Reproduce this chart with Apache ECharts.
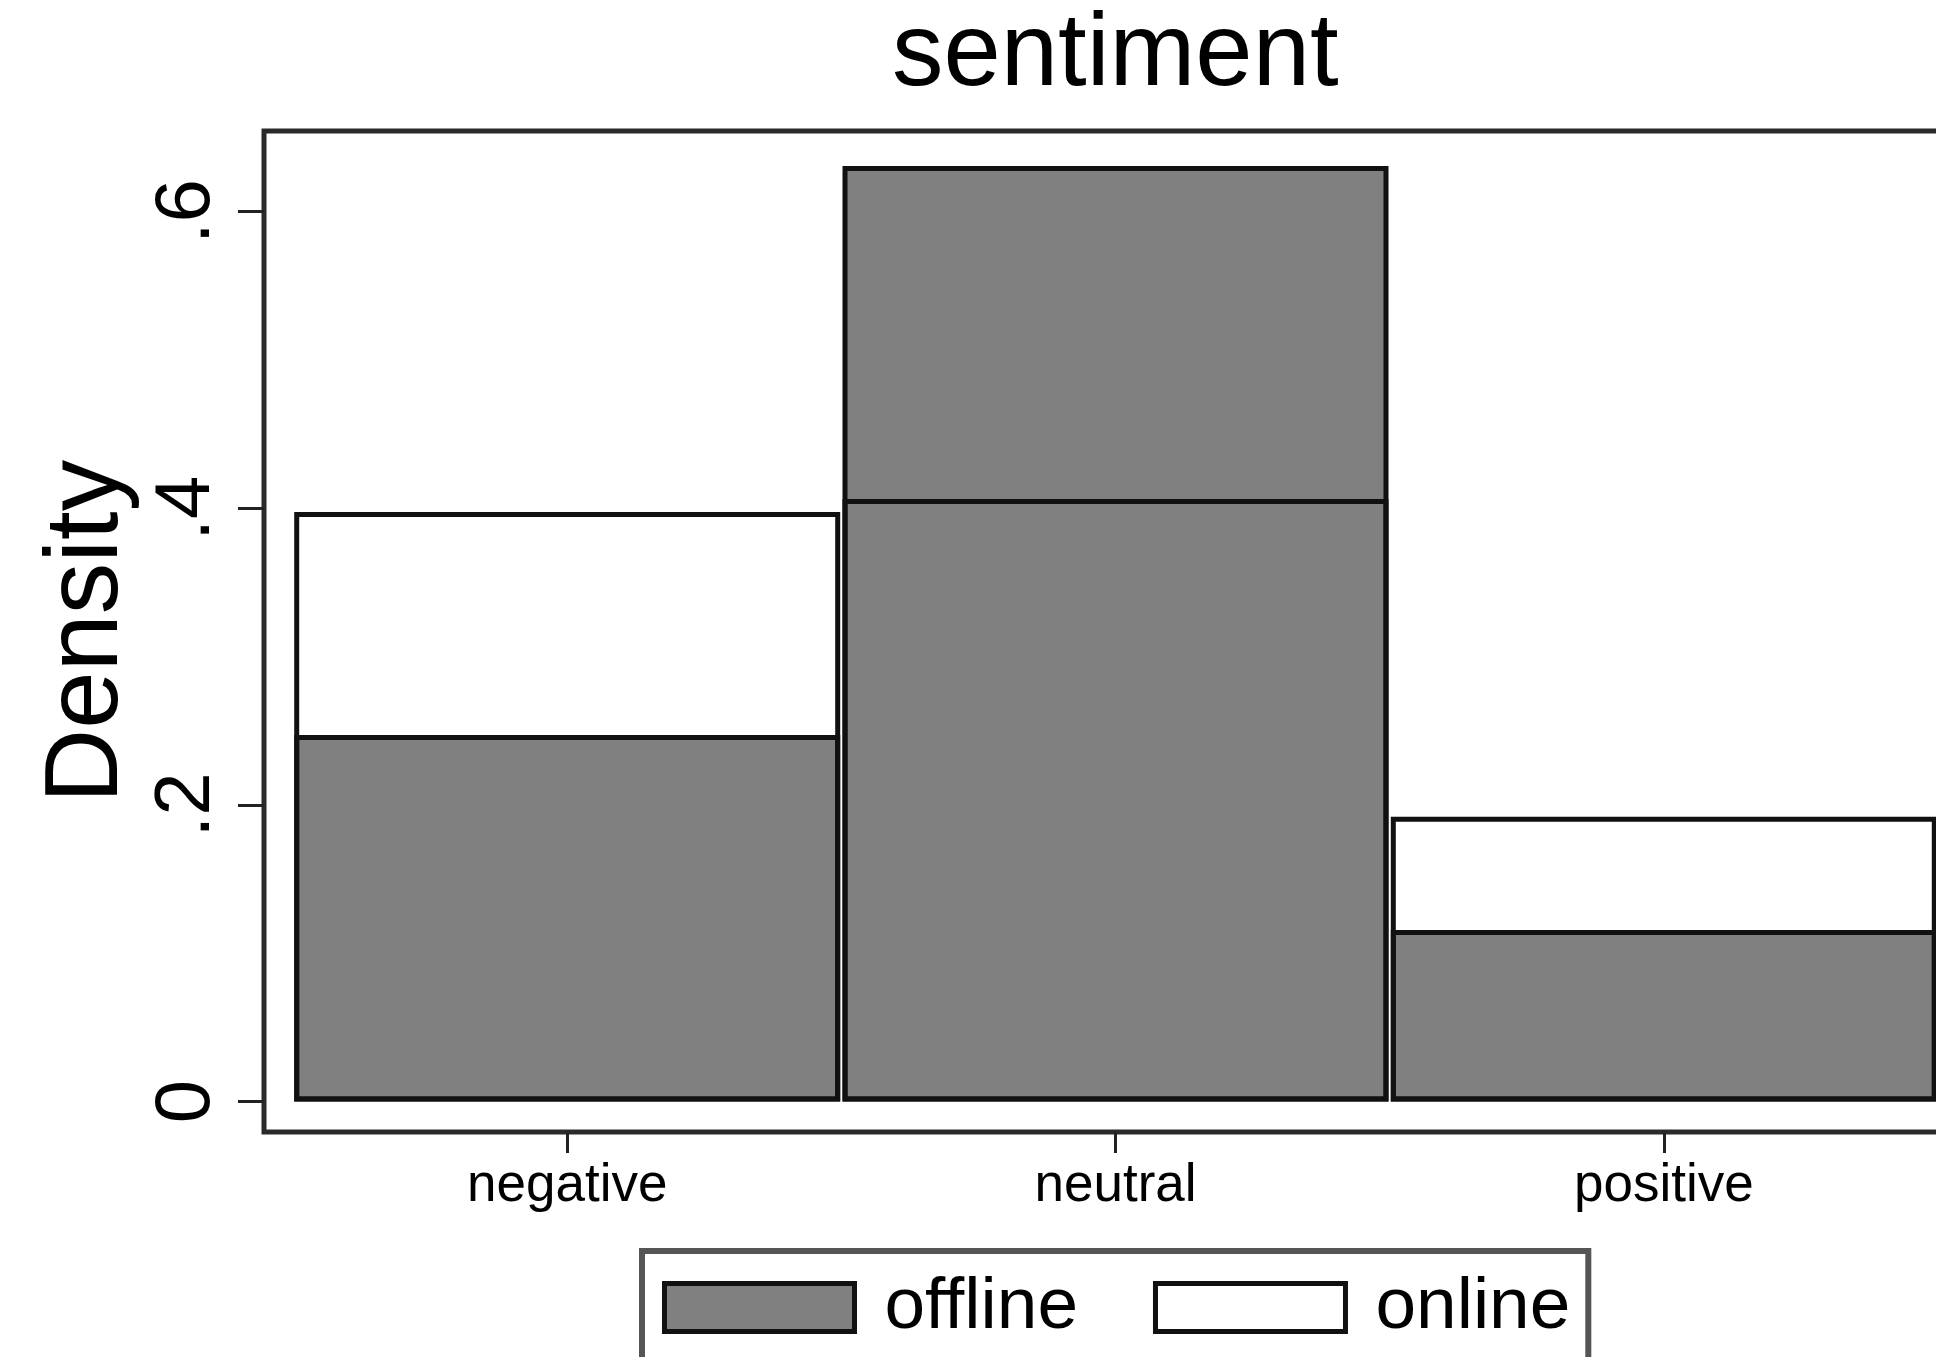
<!DOCTYPE html>
<html>
<head>
<meta charset="utf-8">
<script src="https://cdn.jsdelivr.net/npm/echarts@6/dist/echarts.min.js"></script>
<style>
html,body{margin:0;padding:0;background:#fff;}
#chart{width:1936px;height:1357px;}
</style>
</head>
<body>
<div id="chart"></div>
<script>
// Data
var categories = ['negative', 'neutral', 'positive'];
var categoryPositions = [1, 2, 3];
var offlineDensity = [0.2471, 0.6307, 0.1156];
var onlineDensity = [0.3974, 0.4062, 0.1920];
var yTickValues = [0, 0.2, 0.4, 0.6];
var yTickLabels = ['0', '.2', '.4', '.6'];
var seriesNames = ['offline', 'online'];

var FONT = 'Liberation Sans, Arial, sans-serif';

function pairs(vals) {
  return vals.map(function (v, i) { return [categoryPositions[i], v]; });
}

var chart = echarts.init(document.getElementById('chart'), null, {renderer: 'canvas'});
chart.setOption({
  animation: false,
  backgroundColor: '#ffffff',
  title: {
    text: 'sentiment',
    left: 892,
    top: 5,
    padding: 0,
    textStyle: {fontFamily: FONT, fontSize: 103, fontWeight: 'normal', color: '#000', lineHeight: 103}
  },
  grid: {
    left: 264, top: 131, width: 1703, height: 1001,
    outerBoundsMode: 'none',
    containLabel: false,
    show: true, borderWidth: 5, borderColor: '#2a2a2a', backgroundColor: 'transparent'
  },
  xAxis: {
    type: 'value',
    min: 0.447, max: 3.553,
    axisLine: {show: false, onZero: false},
    splitLine: {show: false},
    axisTick: {show: true, customValues: categoryPositions, length: 21, lineStyle: {color: '#222', width: 3}},
    axisLabel: {
      customValues: categoryPositions,
      margin: 28,
      fontFamily: FONT, fontSize: 53, lineHeight: 53, color: '#000',
      formatter: function (v) { var i = categoryPositions.indexOf(Math.round(v)); return i >= 0 ? categories[i] : ''; }
    }
  },
  yAxis: {
    type: 'value',
    min: -0.02056, max: 0.6543,
    name: 'Density',
    nameLocation: 'middle',
    nameRotate: 90,
    nameGap: 123,
    nameTextStyle: {fontFamily: FONT, fontSize: 103, lineHeight: 103, color: '#000'},
    axisLine: {show: false, onZero: false},
    splitLine: {show: false},
    axisTick: {show: true, customValues: yTickValues, length: 26, lineStyle: {color: '#222', width: 3}},
    axisLabel: {
      customValues: yTickValues,
      rotate: 90,
      margin: 38,
      fontFamily: FONT, fontSize: 78, lineHeight: 78, color: '#000',
      formatter: function (v) {
        for (var i = 0; i < yTickValues.length; i++) { if (Math.abs(yTickValues[i] - v) < 1e-6) return yTickLabels[i]; }
        return '';
      }
    }
  },
  legend: {
    left: 642, top: 1251,
    orient: 'horizontal',
    padding: [20, 18, 80, 20],
    itemWidth: 190, itemHeight: 48, itemGap: 75,
    borderColor: '#555', borderWidth: 6,
    icon: 'rect',
    textStyle: {fontFamily: FONT, fontSize: 73, lineHeight: 73, color: '#000', padding: [0, 0, 0, 25]},
    data: [
      {name: seriesNames[0], itemStyle: {color: '#808080', borderColor: '#111', borderWidth: 5}},
      {name: seriesNames[1], itemStyle: {color: '#ffffff', borderColor: '#111', borderWidth: 5}}
    ]
  },
  series: [
    {
      name: seriesNames[0], type: 'bar',
      barWidth: 546, barGap: '-100%',
      data: pairs(offlineDensity),
      itemStyle: {color: '#808080', borderColor: '#111', borderWidth: 5},
      z: 2
    },
    {
      name: seriesNames[1], type: 'bar',
      barWidth: 546, barGap: '-100%',
      data: pairs(onlineDensity),
      itemStyle: {color: 'rgba(255,255,255,0)', borderColor: '#111', borderWidth: 5},
      z: 3
    }
  ]
});
</script>
</body>
</html>
